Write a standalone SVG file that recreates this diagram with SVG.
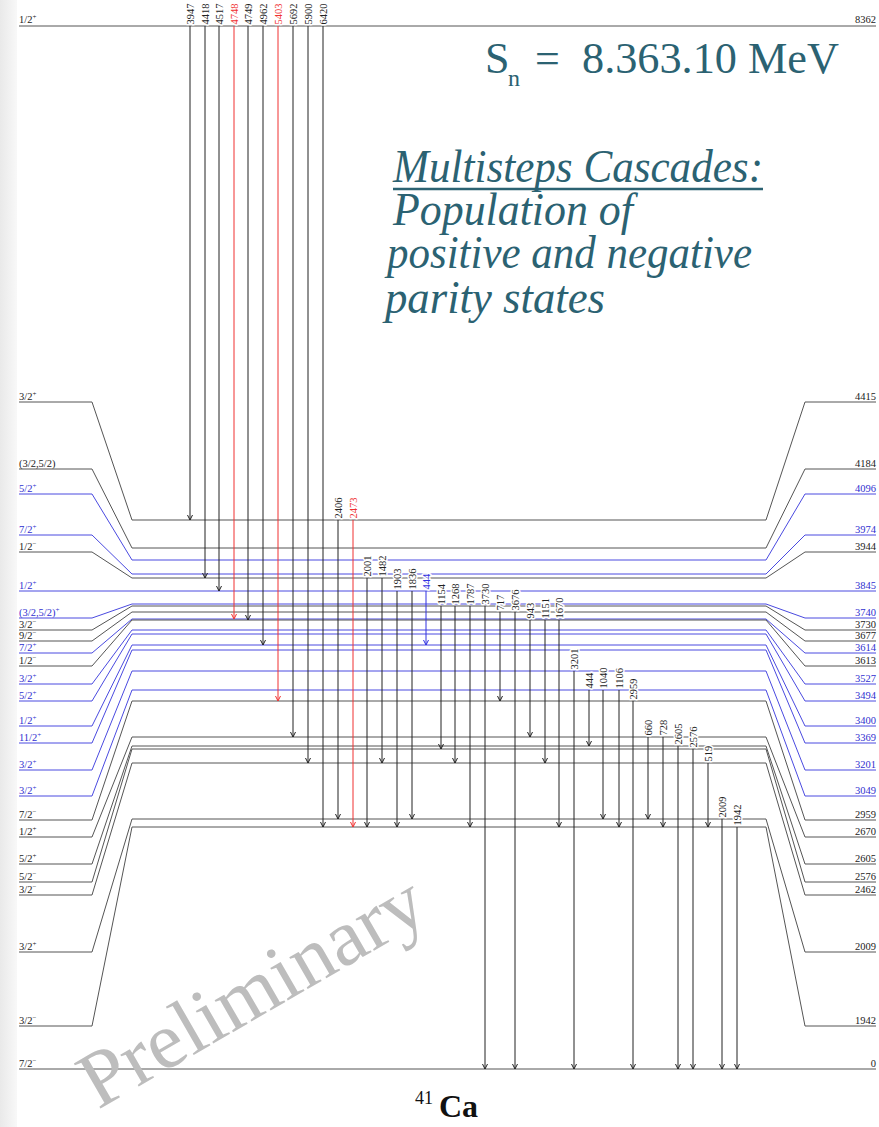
<svg xmlns="http://www.w3.org/2000/svg" width="879" height="1127" viewBox="0 0 879 1127">
<defs>
<linearGradient id="edge" x1="0" y1="0" x2="1" y2="0"><stop offset="0" stop-color="#e9e9e9"/><stop offset="1" stop-color="#f8f8f8"/></linearGradient>
<marker id="ak" viewBox="-6 -3 7 6" refX="0" refY="0" markerWidth="7" markerHeight="6" markerUnits="userSpaceOnUse" orient="auto"><path d="M-5,-2.5L0,0L-5,2.5" fill="none" stroke="#222" stroke-width="1"/></marker>
<marker id="ar" viewBox="-6 -3 7 6" refX="0" refY="0" markerWidth="7" markerHeight="6" markerUnits="userSpaceOnUse" orient="auto"><path d="M-5,-2.5L0,0L-5,2.5" fill="none" stroke="#f03030" stroke-width="1"/></marker>
<marker id="ab" viewBox="-6 -3 7 6" refX="0" refY="0" markerWidth="7" markerHeight="6" markerUnits="userSpaceOnUse" orient="auto"><path d="M-5,-2.5L0,0L-5,2.5" fill="none" stroke="#3030e0" stroke-width="1"/></marker>
</defs>
<style>
.lv{fill:none;stroke:#555;stroke-width:1}
.lv.b{stroke:#4a4ae0}
.lt{font-family:"Liberation Serif",serif;font-size:10.5px;fill:#222}
.lt.b{fill:#3030d0}
.r{text-anchor:end}
.sup{font-size:7px}
.g{stroke:#222;stroke-width:1;fill:none;marker-end:url(#ak)}
.g.rd{stroke:#f03030;marker-end:url(#ar)}
.g.bl{stroke:#3030e0;marker-end:url(#ab)}
.gl{font-family:"Liberation Serif",serif;font-size:10.5px;fill:#222;stroke:#fff;stroke-width:3;paint-order:stroke;stroke-linejoin:round}
.gl.rd{fill:#f03030}
.gl.bl{fill:#3030e0}
.title{font-family:"Liberation Serif",serif;fill:#2b6272}
</style>
<rect x="0" y="0" width="17" height="1127" fill="url(#edge)"/>

<g id="levels">
<g id="lvl-8362"><path class="lv" d="M19,26H876"/><text class="lt" x="19" y="23">1/2<tspan class="sup" dy="-4">+</tspan></text><text class="lt r" x="876" y="23">8362</text></g>
<g id="lvl-4415"><path class="lv" d="M19,402H92L132,520H766L805,402H876"/><text class="lt" x="19" y="400">3/2<tspan class="sup" dy="-4">+</tspan></text><text class="lt r" x="876" y="400">4415</text></g>
<g id="lvl-4184"><path class="lv" d="M19,469H92L132,548H766L805,469H876"/><text class="lt" x="19" y="467">(3/2,5/2)</text><text class="lt r" x="876" y="467">4184</text></g>
<g id="lvl-4096"><path class="lv b" d="M19,494H92L132,560H766L805,494H876"/><text class="lt b" x="19" y="492">5/2<tspan class="sup" dy="-4">+</tspan></text><text class="lt b r" x="876" y="492">4096</text></g>
<g id="lvl-3974"><path class="lv b" d="M19,535H92L132,574H766L805,535H876"/><text class="lt b" x="19" y="533">7/2<tspan class="sup" dy="-4">+</tspan></text><text class="lt b r" x="876" y="533">3974</text></g>
<g id="lvl-3944"><path class="lv" d="M19,552H92L132,578H766L805,552H876"/><text class="lt" x="19" y="550">1/2<tspan class="sup" dy="-4">−</tspan></text><text class="lt r" x="876" y="550">3944</text></g>
<g id="lvl-3845"><path class="lv b" d="M19,591H876"/><text class="lt b" x="19" y="589">1/2<tspan class="sup" dy="-4">+</tspan></text><text class="lt b r" x="876" y="589">3845</text></g>
<g id="lvl-3740"><path class="lv b" d="M19,618H92L132,604H766L805,618H876"/><text class="lt b" x="19" y="616">(3/2,5/2)<tspan class="sup" dy="-4">+</tspan></text><text class="lt b r" x="876" y="616">3740</text></g>
<g id="lvl-3730"><path class="lv" d="M19,630H92L132,606H766L805,630H876"/><text class="lt" x="19" y="628">3/2<tspan class="sup" dy="-4">−</tspan></text><text class="lt r" x="876" y="628">3730</text></g>
<g id="lvl-3677"><path class="lv" d="M19,641H92L132,612H766L805,641H876"/><text class="lt" x="19" y="639">9/2<tspan class="sup" dy="-4">−</tspan></text><text class="lt r" x="876" y="639">3677</text></g>
<g id="lvl-3614"><path class="lv b" d="M19,653H92L132,619H766L805,653H876"/><text class="lt b" x="19" y="651">7/2<tspan class="sup" dy="-4">+</tspan></text><text class="lt b r" x="876" y="651">3614</text></g>
<g id="lvl-3613"><path class="lv" d="M19,666H92L132,620H766L805,666H876"/><text class="lt" x="19" y="664">1/2<tspan class="sup" dy="-4">−</tspan></text><text class="lt r" x="876" y="664">3613</text></g>
<g id="lvl-3527"><path class="lv b" d="M19,684H92L132,630H766L805,684H876"/><text class="lt b" x="19" y="682">3/2<tspan class="sup" dy="-4">+</tspan></text><text class="lt b r" x="876" y="682">3527</text></g>
<g id="lvl-3494"><path class="lv b" d="M19,701H92L132,634H766L805,701H876"/><text class="lt b" x="19" y="699">5/2<tspan class="sup" dy="-4">+</tspan></text><text class="lt b r" x="876" y="699">3494</text></g>
<g id="lvl-3400"><path class="lv b" d="M19,726H92L132,645H766L805,726H876"/><text class="lt b" x="19" y="724">1/2<tspan class="sup" dy="-4">+</tspan></text><text class="lt b r" x="876" y="724">3400</text></g>
<g id="lvl-3369"><path class="lv b" d="M19,743H92L132,650H766L805,743H876"/><text class="lt b" x="19" y="741">11/2<tspan class="sup" dy="-4">+</tspan></text><text class="lt b r" x="876" y="741">3369</text></g>
<g id="lvl-3201"><path class="lv b" d="M19,770H92L132,671H766L805,770H876"/><text class="lt b" x="19" y="768">3/2<tspan class="sup" dy="-4">+</tspan></text><text class="lt b r" x="876" y="768">3201</text></g>
<g id="lvl-3049"><path class="lv b" d="M19,796H92L132,690H766L805,796H876"/><text class="lt b" x="19" y="794">3/2<tspan class="sup" dy="-4">+</tspan></text><text class="lt b r" x="876" y="794">3049</text></g>
<g id="lvl-2959"><path class="lv" d="M19,820H92L132,701H766L805,820H876"/><text class="lt" x="19" y="818">7/2<tspan class="sup" dy="-4">−</tspan></text><text class="lt r" x="876" y="818">2959</text></g>
<g id="lvl-2670"><path class="lv" d="M19,837H92L132,737H766L805,837H876"/><text class="lt" x="19" y="835">1/2<tspan class="sup" dy="-4">+</tspan></text><text class="lt r" x="876" y="835">2670</text></g>
<g id="lvl-2605"><path class="lv" d="M19,864H92L132,746H766L805,864H876"/><text class="lt" x="19" y="862">5/2<tspan class="sup" dy="-4">+</tspan></text><text class="lt r" x="876" y="862">2605</text></g>
<g id="lvl-2576"><path class="lv" d="M19,882H92L132,749H766L805,882H876"/><text class="lt" x="19" y="880">5/2<tspan class="sup" dy="-4">−</tspan></text><text class="lt r" x="876" y="880">2576</text></g>
<g id="lvl-2462"><path class="lv" d="M19,895H92L132,763H766L805,895H876"/><text class="lt" x="19" y="893">3/2<tspan class="sup" dy="-4">−</tspan></text><text class="lt r" x="876" y="893">2462</text></g>
<g id="lvl-2009"><path class="lv" d="M19,952H92L132,819H766L805,952H876"/><text class="lt" x="19" y="950">3/2<tspan class="sup" dy="-4">+</tspan></text><text class="lt r" x="876" y="950">2009</text></g>
<g id="lvl-1942"><path class="lv" d="M19,1026H92L132,827H766L805,1026H876"/><text class="lt" x="19" y="1024">3/2<tspan class="sup" dy="-4">−</tspan></text><text class="lt r" x="876" y="1024">1942</text></g>
<g id="lvl-0"><path class="lv" d="M19,1069H876"/><text class="lt" x="19" y="1067">7/2<tspan class="sup" dy="-4">−</tspan></text><text class="lt r" x="876" y="1067">0</text></g>
</g>

<g id="connectors">
<path class="g" d="M190,26V520"/>
<path class="g" d="M205,26V578"/>
<path class="g" d="M219,26V591"/>
<path class="g rd" d="M234,26V619"/>
<path class="g" d="M248,26V620"/>
<path class="g" d="M263,26V645"/>
<path class="g rd" d="M278,26V701"/>
<path class="g" d="M293,26V737"/>
<path class="g" d="M308,26V763"/>
<path class="g" d="M323,26V827"/>
<path class="g" d="M338,520V819"/>
<path class="g rd" d="M353,520V827"/>
<path class="g" d="M367,578V827"/>
<path class="g" d="M382,578V763"/>
<path class="g" d="M397,591V827"/>
<path class="g" d="M412,591V819"/>
<path class="g bl" d="M426,591V645"/>
<path class="g" d="M441,606V749"/>
<path class="g" d="M455,606V763"/>
<path class="g" d="M470,606V827"/>
<path class="g" d="M485,606V1069"/>
<path class="g" d="M500,612V701"/>
<path class="g" d="M515,612V1069"/>
<path class="g" d="M530,620V737"/>
<path class="g" d="M545,620V763"/>
<path class="g" d="M559,620V827"/>
<path class="g" d="M574,671V1069"/>
<path class="g" d="M589,690V746"/>
<path class="g" d="M603,690V819"/>
<path class="g" d="M619,690V827"/>
<path class="g" d="M633,701V1069"/>
<path class="g" d="M648,737V819"/>
<path class="g" d="M663,737V827"/>
<path class="g" d="M678,746V1069"/>
<path class="g" d="M693,749V1069"/>
<path class="g" d="M708,763V827"/>
<path class="g" d="M722,819V1069"/>
<path class="g" d="M737,827V1069"/>
</g>

<g id="gamma-labels">
<text class="gl" transform="translate(193.5,24.5) rotate(-90)">3947</text>
<text class="gl" transform="translate(208.5,24.5) rotate(-90)">4418</text>
<text class="gl" transform="translate(222.5,24.5) rotate(-90)">4517</text>
<text class="gl rd" transform="translate(237.5,24.5) rotate(-90)">4748</text>
<text class="gl" transform="translate(251.5,24.5) rotate(-90)">4749</text>
<text class="gl" transform="translate(266.5,24.5) rotate(-90)">4962</text>
<text class="gl rd" transform="translate(281.5,24.5) rotate(-90)">5403</text>
<text class="gl" transform="translate(296.5,24.5) rotate(-90)">5692</text>
<text class="gl" transform="translate(311.5,24.5) rotate(-90)">5900</text>
<text class="gl" transform="translate(326.5,24.5) rotate(-90)">6420</text>
<text class="gl" transform="translate(341.5,518.5) rotate(-90)">2406</text>
<text class="gl rd" transform="translate(356.5,518.5) rotate(-90)">2473</text>
<text class="gl" transform="translate(370.5,576.5) rotate(-90)">2001</text>
<text class="gl" transform="translate(385.5,576.5) rotate(-90)">1482</text>
<text class="gl" transform="translate(400.5,589.5) rotate(-90)">1903</text>
<text class="gl" transform="translate(415.5,589.5) rotate(-90)">1836</text>
<text class="gl bl" transform="translate(429.5,589.5) rotate(-90)">444</text>
<text class="gl" transform="translate(444.5,604.5) rotate(-90)">1154</text>
<text class="gl" transform="translate(458.5,604.5) rotate(-90)">1268</text>
<text class="gl" transform="translate(473.5,604.5) rotate(-90)">1787</text>
<text class="gl" transform="translate(488.5,604.5) rotate(-90)">3730</text>
<text class="gl" transform="translate(503.5,610.5) rotate(-90)">717</text>
<text class="gl" transform="translate(518.5,610.5) rotate(-90)">3676</text>
<text class="gl" transform="translate(533.5,618.5) rotate(-90)">943</text>
<text class="gl" transform="translate(548.5,618.5) rotate(-90)">1151</text>
<text class="gl" transform="translate(562.5,618.5) rotate(-90)">1670</text>
<text class="gl" transform="translate(577.5,669.5) rotate(-90)">3201</text>
<text class="gl" transform="translate(592.5,688.5) rotate(-90)">444</text>
<text class="gl" transform="translate(606.5,688.5) rotate(-90)">1040</text>
<text class="gl" transform="translate(622.5,688.5) rotate(-90)">1106</text>
<text class="gl" transform="translate(636.5,699.5) rotate(-90)">2959</text>
<text class="gl" transform="translate(651.5,735.5) rotate(-90)">660</text>
<text class="gl" transform="translate(666.5,735.5) rotate(-90)">728</text>
<text class="gl" transform="translate(681.5,744.5) rotate(-90)">2605</text>
<text class="gl" transform="translate(696.5,747.5) rotate(-90)">2576</text>
<text class="gl" transform="translate(711.5,761.5) rotate(-90)">519</text>
<text class="gl" transform="translate(725.5,817.5) rotate(-90)">2009</text>
<text class="gl" transform="translate(740.5,825.5) rotate(-90)">1942</text>
</g>

<g id="title" font-family="'Liberation Serif', serif">
<text class="title" x="485" y="73" font-size="44">S</text>
<text class="title" x="508" y="86" font-size="24">n</text>
<text class="title" x="535" y="73" font-size="44">=</text>
<text class="title" x="582" y="73" font-size="44" textLength="257" lengthAdjust="spacingAndGlyphs">8.363.10 MeV</text>
<text class="title" x="393" y="182" font-size="46" font-style="italic" textLength="370" lengthAdjust="spacingAndGlyphs">Multisteps Cascades:</text>
<line x1="393" y1="189" x2="763" y2="189" stroke="#2b6272" stroke-width="2.5"/>
<text class="title" x="393" y="225" font-size="46" font-style="italic" textLength="240" lengthAdjust="spacingAndGlyphs">Population of</text>
<text class="title" x="387" y="268" font-size="46" font-style="italic" textLength="365" lengthAdjust="spacingAndGlyphs">positive and negative</text>
<text class="title" x="385" y="313" font-size="46" font-style="italic" textLength="220" lengthAdjust="spacingAndGlyphs">parity states</text>
</g>

<g id="nucleus">
<text x="415" y="1104" font-family="'Liberation Serif', serif" font-size="18" fill="#111">41</text>
<text x="439" y="1117" font-family="'Liberation Serif', serif" font-size="32" font-weight="bold" fill="#111">Ca</text>
</g>

<text x="98" y="1110" transform="rotate(-30 98 1110)" font-family="'Liberation Serif', serif" font-size="80" fill="#bdbdbd" textLength="385" lengthAdjust="spacingAndGlyphs">Preliminary</text>
</svg>
